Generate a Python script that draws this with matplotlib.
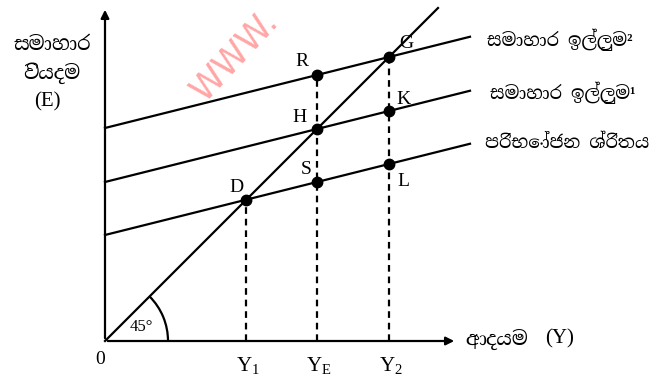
import matplotlib
matplotlib.use("Agg")
import matplotlib.pyplot as plt
from matplotlib.patches import Arc

# --- data (units: income / expenditure, drawn with equal scales) ---
slope = 0.25                      # marginal propensity (same for all lines)
intercepts = [106, 159, 213]      # consumption, AD1, AD2
income_levels = [141, 212, 284]   # Y1, YE, Y2
income_labels = [r"$\mathrm{Y_1}$", r"$\mathrm{Y_E}$", r"$\mathrm{Y_2}$"]
line_names = ["පරිභෝජන ශ්රිතය", "සමාහාර ඉල්ලුම¹", "සමාහාර ඉල්ලුම²"]
x_max_lines = 365
x_max_45 = 333

plt.rcParams["mathtext.fontset"] = "custom"
plt.rcParams["mathtext.rm"] = "Liberation Serif"
sin_fams = ["Noto Serif Sinhala", "Liberation Serif", "DejaVu Sans"]
serif = "Liberation Serif"

fig = plt.figure(figsize=(6.55, 3.79), dpi=100)
ax = fig.add_axes([0, 0, 1, 1])
ax.set_xlim(-105, 550)
ax.set_ylim(-38, 341)
ax.axis("off")

lw = 1.6
# axes with arrows
ax.annotate("", xy=(352, 0), xytext=(0, 0),
            arrowprops=dict(arrowstyle="-|>", color="k", lw=lw, mutation_scale=12))
ax.annotate("", xy=(0, 334), xytext=(0, 0),
            arrowprops=dict(arrowstyle="-|>", color="k", lw=lw, mutation_scale=12))

# 45 degree line
ax.plot([0, x_max_45], [0, x_max_45], color="k", lw=lw)
ax.add_patch(Arc((0, 0), 126, 126, theta1=0, theta2=45, color="k", lw=lw))
ax.text(25, 14, "45°", fontsize=12, family=serif, ha="left", va="center")

# consumption / aggregate demand lines
for c in intercepts:
    ax.plot([0, x_max_lines], [c, c + slope * x_max_lines], color="k", lw=lw)

# points
y1, ye, y2 = income_levels
c0, c1, c2 = intercepts
pts = {
    "D": (y1, c0 + slope * y1),
    "S": (ye, c0 + slope * ye),
    "H": (ye, c1 + slope * ye),
    "R": (ye, c2 + slope * ye),
    "L": (y2, c0 + slope * y2),
    "K": (y2, c1 + slope * y2),
    "G": (y2, c2 + slope * y2),
}
for name, (px, py) in pts.items():
    ax.plot(px, py, "o", color="k", ms=7.5)

offsets = {"D": (-10, 12), "S": (-11, 13), "H": (-17, 11), "R": (-15, 13),
           "L": (14, -18), "K": (14, 12), "G": (17, 13)}
for name, (dx, dy) in offsets.items():
    px, py = pts[name]
    ax.text(px + dx, py + dy, name, fontsize=14, family=serif,
            ha="center", va="center")

# dashed drop lines
for x, top in [(y1, pts["D"][1]), (ye, pts["R"][1]), (y2, pts["G"][1])]:
    ax.plot([x, x], [0, top], color="k", lw=lw, ls=(0, (3, 2.2)))

# x tick labels
ax.text(-5, -19, "0", fontsize=14, family=serif, ha="center", va="center")
for x, lab in zip(income_levels, income_labels):
    ax.text(x + 2, -24, lab, fontsize=15, ha="center", va="center")

# right labels
label_pos = [(380, 198), (385, 248), (382, 301)]
for (lx, ly), name in zip(label_pos, line_names):
    ax.text(lx, ly, name, fontsize=13, family=sin_fams, weight="semibold",
            ha="left", va="center")

# axis titles
ax.text(-53, 296, "සමාහාර", fontsize=14, family=sin_fams, weight="semibold",
        ha="center", va="center")
ax.text(-53, 268, "වියදම", fontsize=14, family=sin_fams, weight="semibold",
        ha="center", va="center")
ax.text(-58, 239, "(E)", fontsize=15, family=serif, ha="center", va="center")
ax.text(360, 2, "ආදයම", fontsize=14, family=sin_fams, weight="semibold",
        ha="left", va="center")
ax.text(440, 2, "(Y)", fontsize=15, family=serif, ha="left", va="center")

# watermark
ax.text(130, 285, "WWW.", fontsize=25, color="#ff9c9c", family="DejaVu Sans",
        rotation=47, ha="center", va="center", alpha=0.9)

fig.savefig("out.png", dpi=100)
